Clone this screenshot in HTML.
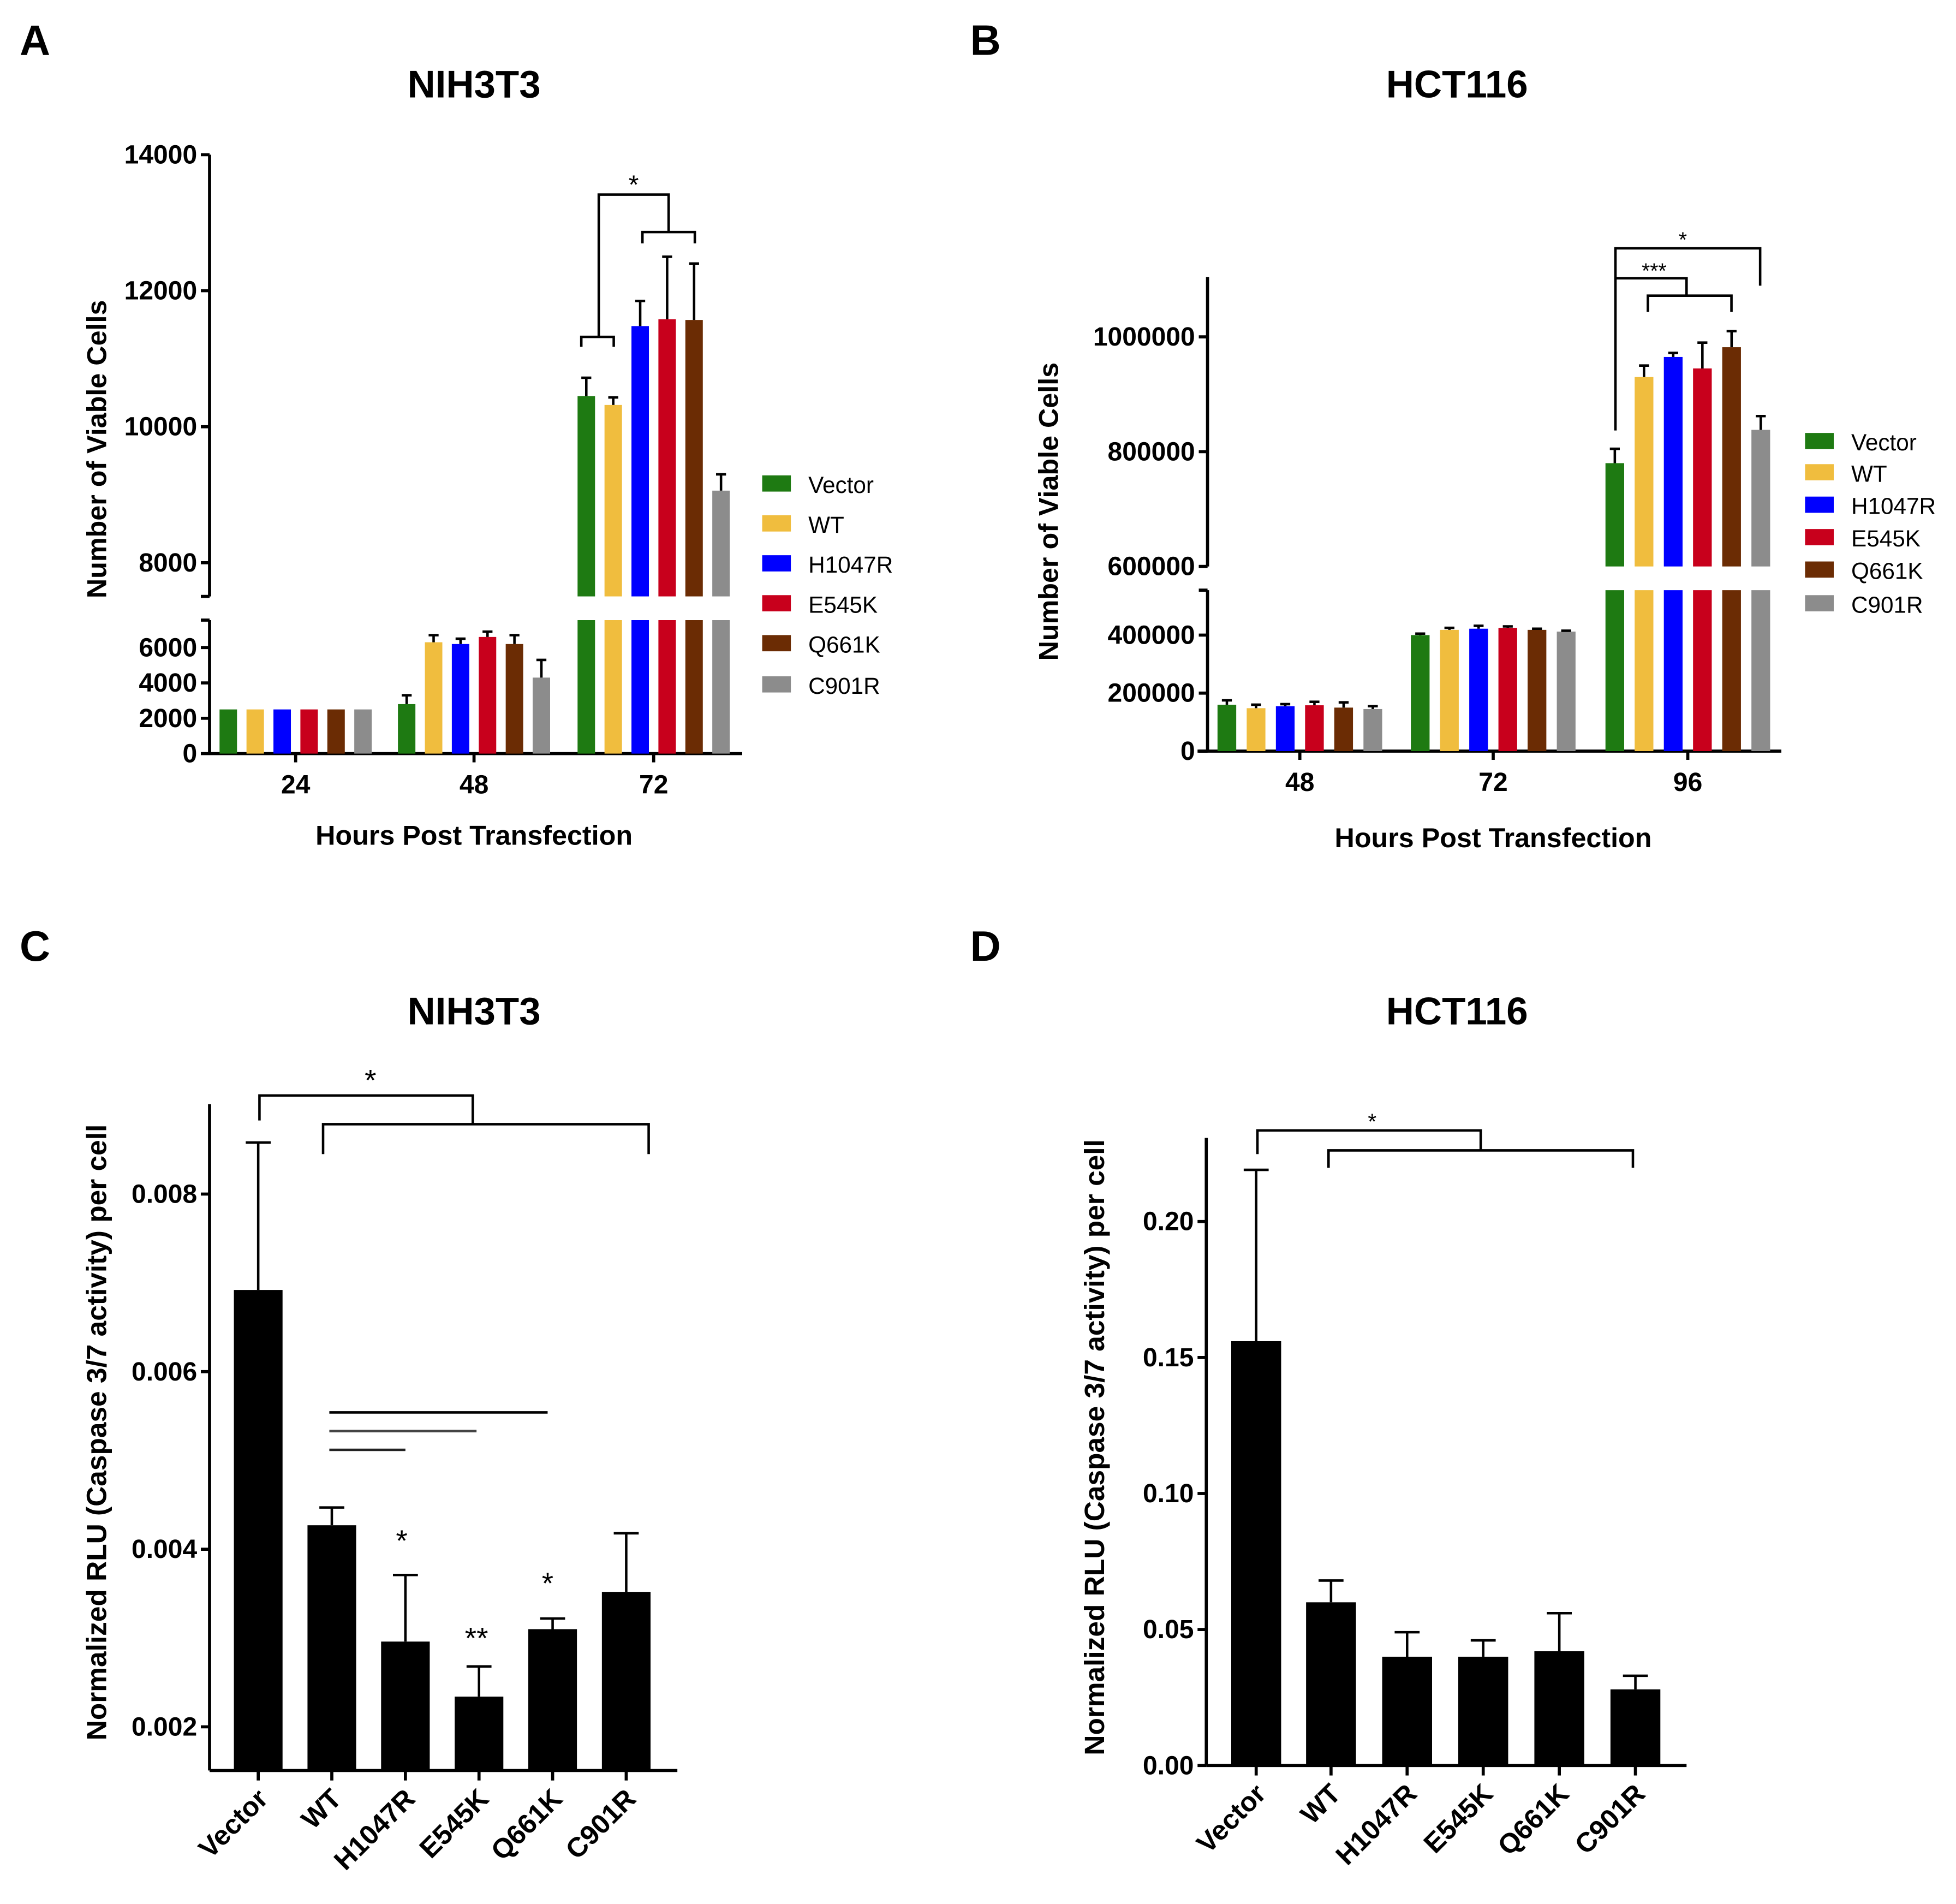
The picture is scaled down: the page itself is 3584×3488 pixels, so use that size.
<!DOCTYPE html>
<html><head><meta charset="utf-8"><style>
html,body{margin:0;padding:0;background:#fff}
svg{display:block}
text{font-family:"Liberation Sans",Arial,sans-serif;fill:#000}
</style></head><body>
<svg id="fig" width="3584" height="3488" viewBox="0 0 1568 1526" xmlns="http://www.w3.org/2000/svg"></svg>
<script>
// ---- Data ----
const series = ["Vector","WT","H1047R","E545K","Q661K","C901R"];
const colors = ["#1e7a12","#f0bd3e","#0000ff","#c8001c","#6b2c04","#8c8c8c"];
const aGroups = ["24","48","72"];
const aVals = [[2500,2500,2500,2500,2500,2500],[2800,6300,6200,6600,6200,4300],[10450,10320,11480,11580,11570,9060]];
const aErr  = [[2500,2500,2500,2500,2500,2500],[3300,6700,6500,6900,6700,5300],[10720,10430,11850,12500,12400,9300]];
const aTicksUpper = [8000,10000,12000,14000];
const aTicksLower = [0,2000,4000,6000];
const bGroups = ["48","72","96"];
const bVals = [[160000,148000,155000,158000,150000,145000],[400000,418000,422000,425000,418000,412000],[780000,930000,965000,945000,982000,838000]];
const bErr  = [[175000,160000,162000,170000,168000,155000],[405000,425000,432000,430000,422000,415000],[805000,950000,972000,990000,1010000,862000]];
const bTicksUpper = [600000,800000,1000000];
const bTicksLower = [0,200000,400000];
const cVals = [0.00692,0.00427,0.00296,0.00234,0.00310,0.00352];
const cErr  = [0.00858,0.00447,0.00371,0.00268,0.00322,0.00418];
const cTicks = [0.002,0.004,0.006,0.008];
const cTickLabels = ["0.002","0.004","0.006","0.008"];
const dVals = [0.156,0.060,0.040,0.040,0.042,0.028];
const dErr  = [0.219,0.068,0.049,0.046,0.056,0.033];
const dTicks = [0,0.05,0.10,0.15,0.20];
const dTickLabels = ["0.00","0.05","0.10","0.15","0.20"];

const svg = document.getElementById('fig');
const NS = "http://www.w3.org/2000/svg";
function mk(tag, attrs, name, parent){
  const el = document.createElementNS(NS, tag);
  for (const k in attrs) el.setAttribute(k, attrs[k]);
  
  
  (parent||svg).appendChild(el);
  return el;
}
function line(x1,y1,x2,y2,name,w,col){return mk('line',{x1,y1,x2,y2,stroke:col||'#000','stroke-width':w||2},name);}
function txt(x,y,s,size,name,anchor,weight,extra){
  const t = mk('text',Object.assign({x,y,'font-size':size,'text-anchor':anchor||'middle','font-weight':weight||'bold'},extra||{}),name);
  t.textContent = s; return t;
}
function poly(pts,name){return mk('polyline',{points:pts.map(p=>p.join(',')).join(' '),fill:'none',stroke:'#000','stroke-width':2},name);}

// ---- Broken-axis grouped chart ----
function brokenChart(o){
  const {ax, x0, x1, upTop, upBot, upV0, upV1, upY0, upY1, loTop, loBot, loV1, loY1, groups, gCenters, pitch, bw, vals, errs, tu, tl} = o;
  const yUp = v => upY0 + (v-upV0)*(upY1-upY0)/(upV1-upV0);
  const yLo = v => loBot + v*(loY1-loBot)/loV1;
  const upMin = upV0 + (upBot-upY0)*(upV1-upV0)/(upY1-upY0);
  line(ax,upTop,ax,upBot,'y-axis-upper',2.5);
  line(ax,loTop,ax,loBot,'y-axis-lower',2.5);
  line(ax-7,upBot,ax,upBot,'axis-break-tick',2.5);
  line(ax-7,loTop,ax,loTop,'axis-break-tick',2.5);
  line(x0,loBot,x1,loBot,'x-axis',2.5);
  tu.forEach(v=>{const y=yUp(v);line(ax-7,y,ax,y,'y-tick',2.5);txt(ax-10,y+7,String(v),21,'y-tick-label','end');});
  tl.forEach(v=>{const y=yLo(v);line(ax-7,y,ax,y,'y-tick',2.5);txt(ax-10,y+7,String(v),21,'y-tick-label','end');});
  groups.forEach((g,gi)=>{
    const gc = gCenters[gi];
    line(gc,loBot,gc,loBot+7,'x-tick',2.5);
    txt(gc,loBot+32,g,21,'x-tick-label');
    vals[gi].forEach((v,si)=>{
      const cx = gc + (si-2.5)*pitch;
      const e = errs[gi][si];
      if (v > upMin){
        mk('rect',{x:cx-bw/2,y:loTop,width:bw,height:loBot-loTop,fill:colors[si]},'bar-'+series[si].toLowerCase()+'-'+g);
        mk('rect',{x:cx-bw/2,y:yUp(v),width:bw,height:upBot-yUp(v),fill:colors[si]},'bar-'+series[si].toLowerCase()+'-'+g);
        if(e>v){line(cx,yUp(e),cx,yUp(v),'error-bar',2);line(cx-4,yUp(e),cx+4,yUp(e),'error-cap',2);}
      } else {
        mk('rect',{x:cx-bw/2,y:yLo(v),width:bw,height:loBot-yLo(v),fill:colors[si]},'bar-'+series[si].toLowerCase()+'-'+g);
        if(e>v){line(cx,yLo(e),cx,yLo(v),'error-bar',2);line(cx-4,yLo(e),cx+4,yLo(e),'error-cap',2);}
      }
    });
  });
  return {yUp,yLo};
}
function legend(x,ys,size){
  series.forEach((s,i)=>{
    mk('rect',{x:x,y:ys[i]-7,width:23,height:13,fill:colors[i]},'legend-swatch-'+s.toLowerCase());
    txt(x+37,ys[i]+7,s,size,'legend-entry-'+s.toLowerCase(),'start','normal');
  });
}

// Panel A
txt(28,44,'A',34,'panel-label-a');
txt(380,78,'NIH3T3',31,'chart-title-a');
brokenChart({ax:168,x0:168,x1:595,upTop:124,upBot:478,upV0:8000,upV1:14000,upY0:451,upY1:124,loTop:497,loBot:604,loV1:6000,loY1:519,
  groups:aGroups,gCenters:[237,380,524],pitch:21.6,bw:14,vals:aVals,errs:aErr,tu:aTicksUpper,tl:aTicksLower});
txt(380,677,'Hours Post Transfection',22,'x-axis-title-a');
txt(0,0,'Number of Viable Cells',22,'y-axis-title-a','middle','bold',{transform:'translate(85,360) rotate(-90)'});
legend(611,[388,420,452,484,516,549],18.5);
poly([[466,278],[466,270],[492,270],[492,278]],'sig-bracket');
poly([[480,270],[480,156],[536,156],[536,186]],'sig-bracket');
poly([[515,195],[515,186],[557,186],[557,195]],'sig-bracket');
txt(508,155,'*',21,'sig-star','middle','normal');

// Panel B
txt(790,44,'B',34,'panel-label-b');
txt(1168,78,'HCT116',31,'chart-title-b');
brokenChart({ax:968,x0:960,x1:1428,upTop:222,upBot:454,upV0:600000,upV1:1000000,upY0:454,upY1:270,loTop:473,loBot:602,loV1:400000,loY1:509,
  groups:bGroups,gCenters:[1042,1197,1353],pitch:23.4,bw:15,vals:bVals,errs:bErr,tu:bTicksUpper,tl:bTicksLower});
txt(1197,679,'Hours Post Transfection',22,'x-axis-title-b');
txt(0,0,'Number of Viable Cells',22,'y-axis-title-b','middle','bold',{transform:'translate(848,410) rotate(-90)'});
legend(1447,[354,379,405,431,457,484],18.5);
poly([[1295,345],[1295,199],[1411,199],[1411,229]],'sig-bracket');
poly([[1295,223],[1352,223],[1352,237]],'sig-bracket');
poly([[1321,250],[1321,237],[1388,237],[1388,250]],'sig-bracket');
txt(1349,198,'*',17,'sig-star','middle','normal');
txt(1326,223,'***',17,'sig-star','middle','normal');

// Simple bar chart
function simpleChart(o){
  const {ax,top,bot,x1,v0,y0,v1,y1,centers,bw,vals,errs,ticks,labels} = o;
  const y = v => y0 + (v-v0)*(y1-y0)/(v1-v0);
  line(ax,top,ax,bot,'y-axis',2.5);
  line(ax,bot,x1,bot,'x-axis',2.5);
  ticks.forEach((v,i)=>{line(ax-7,y(v),ax,y(v),'y-tick',2.5);txt(ax-10,y(v)+7,labels[i],21,'y-tick-label','end');});
  vals.forEach((v,i)=>{
    const cx=centers[i];
    mk('rect',{x:cx-bw/2,y:y(v),width:bw,height:bot-y(v),fill:'#000'},'bar-'+series[i].toLowerCase());
    line(cx,y(errs[i]),cx,y(v),'error-bar',2);
    line(cx-10,y(errs[i]),cx+10,y(errs[i]),'error-cap',2);
    line(cx,bot,cx,bot+8,'x-tick',2.5);
    txt(0,0,series[i],22,'x-tick-label-'+series[i].toLowerCase(),'end','bold',{transform:`translate(${cx+9},${bot+24}) rotate(-45)`});
  });
  return y;
}

// Panel C
txt(28,770,'C',34,'panel-label-c');
txt(380,821,'NIH3T3',31,'chart-title-c');
simpleChart({ax:168,top:885,bot:1419,x1:543,v0:0.002,y0:1384,v1:0.008,y1:957,centers:[207,266,325,384,443,502],bw:39,vals:cVals,errs:cErr,ticks:cTicks,labels:cTickLabels});
txt(0,0,'Normalized RLU (Caspase 3/7 activity) per cell',22.5,'y-axis-title-c','middle','bold',{transform:'translate(85,1148) rotate(-90)'});
poly([[208,898],[208,878],[379,878],[379,901]],'sig-bracket');
poly([[259,925],[259,901],[520,901],[520,925]],'sig-bracket');
txt(297,874,'*',24,'sig-star','middle','normal');
line(264,1132,439,1132,'comparison-line',2);
line(264,1147,382,1147,'comparison-line',2,'#444');
line(264,1162,325,1162,'comparison-line',2,'#222');
txt(322,1243,'*',24,'sig-star','middle','normal');
txt(382,1321,'**',24,'sig-star','middle','normal');
txt(439,1277,'*',24,'sig-star','middle','normal');

// Panel D
txt(790,770,'D',34,'panel-label-d');
txt(1168,821,'HCT116',31,'chart-title-d');
simpleChart({ax:967,top:912,bot:1415,x1:1352,v0:0,y0:1415,v1:0.2,y1:979,centers:[1007,1067,1128,1189,1250,1311],bw:40,vals:dVals,errs:dErr,ticks:dTicks,labels:dTickLabels});
txt(0,0,'Normalized RLU (Caspase 3/7 activity) per cell',22.5,'y-axis-title-d','middle','bold',{transform:'translate(885,1160) rotate(-90)'});
poly([[1008,925],[1008,906],[1187,906],[1187,922]],'sig-bracket');
poly([[1065,936],[1065,922],[1309,922],[1309,936]],'sig-bracket');
txt(1100,905,'*',18,'sig-star','middle','normal');
</script>
</body></html>
